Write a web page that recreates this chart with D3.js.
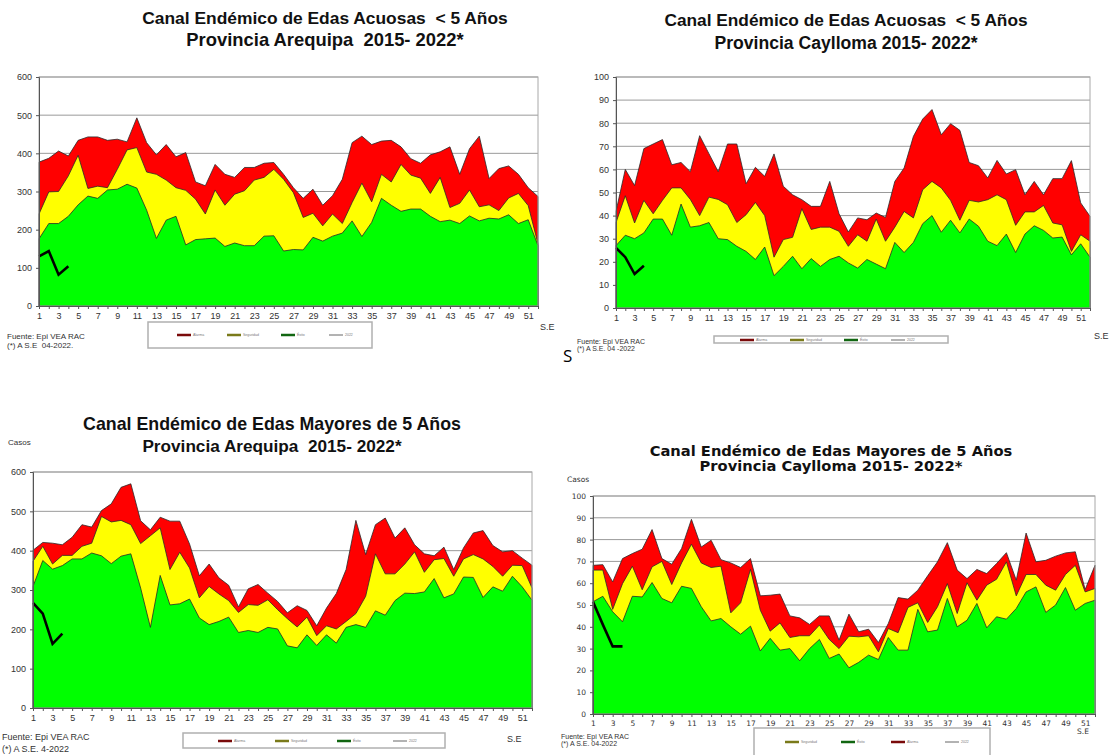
<!DOCTYPE html>
<html>
<head>
<meta charset="utf-8">
<script src="https://cdn.jsdelivr.net/npm/d3@7"></script>
<style>
  body { margin: 0; background: #fff; }
  svg { display: block; }
  text { font-family: "Liberation Sans", Arial, sans-serif; fill: #222; white-space: pre; }
</style>
</head>
<body>
<svg id="chart" width="1112" height="755"></svg>
<script>
// semanas epidemiologicas
const weeks = d3.range(1, 53)
const weekLabels = d3.range(1, 52, 2)

// EDA acuosas < 5 anios - Provincia Arequipa
const aqpMenAlarma = [377,387,406,393,434,443,443,434,437,430,493,428,396,423,391,402,325,315,371,345,337,363,363,374,376,345,310,282,306,264,289,332,428,445,423,432,434,417,386,374,396,404,417,345,412,445,334,360,367,345,310,287]
const aqpMenSeguridad = [241,299,300,341,395,308,314,310,358,409,415,351,345,330,310,303,280,241,304,264,293,302,330,337,358,332,297,232,243,210,241,216,271,322,273,345,325,371,343,335,295,337,258,269,304,260,265,250,283,295,263,163]
const aqpMenExito = [176,216,216,235,265,288,282,304,306,319,309,251,177,225,235,160,174,176,178,156,165,158,158,183,184,144,148,147,180,170,183,191,223,182,219,282,264,248,254,254,235,221,225,216,236,223,230,228,239,216,226,158]
const aqpMen2022 = [130,144,82,104]

// EDA acuosas < 5 anios - Provincia Caylloma
const cayMenAlarma = [41.8,60,53,69,71,72.9,62,63,59,74.6,66.8,59,71,71,53.8,60.9,57,66.7,52.7,49,46.9,44,44,54.8,40.8,32.9,39,38.2,41.1,39.2,54.8,60.6,74.3,81.8,85.9,75,79.8,76.9,63,61.6,56.3,63.9,58,59.9,49,54.8,49,56,56,63.8,45.5,39.7]
const cayMenSeguridad = [37,48.6,36.8,46.6,40.8,46.6,52,52,47,40,48,47,44.7,37,40.4,45.7,40,22,29.6,30.6,43,34,35,35,33.2,26.7,31.7,28.9,38.5,28.9,35,41.8,39,51.2,54.8,52,46.6,38,46.6,45.9,46.9,49,46.9,35.8,41.6,41.6,44.4,36.8,36,24.5,31.7,28.9]
const cayMenExito = [27,31.5,30,32.5,38.5,38.5,31.5,45,35,35.6,37,30,29.6,26.7,24.5,21,26.4,14,18,22.4,17,21.4,18,21,22.4,19.5,17.3,21,19,17,28.4,24,28.4,36.5,40,32.8,38,32.5,38.5,35.4,28.9,27,32,24,32,35.6,33.6,30.3,30.7,23,27.8,22]
const cayMen2022 = [26,22,14.7,18.3]

// EDA mayores de 5 anios - Provincia Arequipa
const aqpMayAlarma = [401,421,419,415,434,466,460,502,519,561,570,476,453,485,475,475,417,336,366,331,312,257,303,314,292,271,242,260,248,209,254,291,352,477,390,466,483,432,458,415,392,387,409,352,407,445,451,413,397,400,381,363]
const aqpMaySeguridad = [373,411,366,388,388,411,419,487,473,477,466,418,438,458,352,396,356,280,309,290,273,243,263,261,275,250,227,206,231,184,209,201,220,240,284,392,341,341,366,397,345,377,380,335,379,390,379,360,335,363,362,305]
const aqpMayExito = [309,375,353,362,379,379,394,387,367,386,392,305,205,337,262,265,277,229,212,220,231,192,197,192,205,201,158,153,186,159,186,165,205,212,205,247,236,273,292,291,295,329,280,290,333,332,281,308,297,335,308,274]
const aqpMay2022 = [267,240,163,189]

// EDA mayores de 5 anios - Provincia Caylloma
const cayMayAlarma = [68.2,68.5,60.6,71.3,73.6,75.6,84.6,71.3,68.7,75.9,89.3,76.6,79.7,70.8,69.3,67.2,71.3,54.2,54.5,55,45,44.1,41.1,45,45,33.9,45.8,37.7,38.9,32.8,41.5,53.4,52.7,56.8,63.4,69.8,78.6,66,62.1,66.3,64.4,69,74,61.4,83,69.8,70.5,72.4,73.9,74.4,57.1,68.2]
const cayMaySeguridad = [66,66,48,59.8,67.8,57,67.5,70,59.4,69.3,77.9,69.3,67.2,67.8,46.4,51,66.3,47.6,38,41.8,35.1,35.9,35.9,40.8,34.2,30,35.7,35.4,35.9,28.5,39.2,37.3,48.9,51,42,49.2,59.8,46.1,60.2,52.2,59.1,61.8,69.8,54.2,64,64,59.1,56.8,64,68.2,56,57.6]
const cayMayExito = [51.5,54,46.9,42.3,54,53.7,60.3,53,51,58.6,57.6,49.2,42.7,43.8,40,36.6,40.3,28.9,34.7,29.3,30,24.4,30,34.2,25.5,27.5,21.2,23.7,27,25,35.1,29.3,29.3,48,37.7,38.5,53,40,43,50.7,39.5,44.6,43.5,48.4,56,58.3,46.6,50,58,47.6,50.7,52.2]
const cayMay2022 = [51.5,41,31,31]

const legendColors = { Alarma: '#7a0a0a', Seguridad: '#7a7a1a', 'Éxito': '#116611', '2022': '#666' }

const panels = [
    {
        title: ['Canal Endémico de Edas Acuosas  < 5 Años', 'Provincia Arequipa  2015- 2022*'],
        titleX: 325, titleY: [18, 40], titleSize: [17.4, 18.4], titleFont: '"Liberation Sans", Arial, sans-serif',
        left: 39, right: 538, top: 77, bottom: 306, yMax: 600, yStep: 100,
        alarma: aqpMenAlarma, seguridad: aqpMenSeguridad, exito: aqpMenExito, actual: aqpMen2022,
        tickFont: 9, tickFamily: '"Liberation Sans", Arial, sans-serif',
        se: [540, 330],
        fuente: ['Fuente: Epi VEA RAC', '(*) A S.E  04-2022.'], fuenteX: 7, fuenteY: [339, 348], fuenteSize: 8,
        legendBox: [148, 322, 372, 348], legendY: 335,
        legendItems: [['Alarma', 177], ['Seguridad', 227], ['Éxito', 281], ['2022', 329]]
    },
    {
        title: ['Canal Endémico de Edas Acuosas  < 5 Años', 'Provincia Caylloma 2015- 2022*'],
        titleX: 846, titleY: [20, 43], titleSize: [17.3, 17.6], titleFont: '"Liberation Sans", Arial, sans-serif',
        left: 616, right: 1090, top: 77, bottom: 308, yMax: 100, yStep: 10,
        alarma: cayMenAlarma, seguridad: cayMenSeguridad, exito: cayMenExito, actual: cayMen2022,
        tickFont: 9, tickFamily: '"Liberation Sans", Arial, sans-serif',
        se: [1094, 339],
        fuente: ['Fuente: Epi VEA RAC', '(*) A S.E. 04 -2022'], fuenteX: 577, fuenteY: [344, 351], fuenteSize: 7,
        legendBox: [714, 336, 948, 343], legendY: 340,
        legendItems: [['Alarma', 740], ['Seguridad', 790], ['Éxito', 844], ['2022', 891]]
    },
    {
        title: ['Canal Endémico de Edas Mayores de 5 Años', 'Provincia Arequipa  2015- 2022*'],
        titleX: 272, titleY: [424, 446], titleSize: [17.8, 17.2], titleFont: '"Liberation Sans", Arial, sans-serif',
        left: 33, right: 532, top: 472, bottom: 708, yMax: 600, yStep: 100,
        alarma: aqpMayAlarma, seguridad: aqpMaySeguridad, exito: aqpMayExito, actual: aqpMay2022,
        tickFont: 9, tickFamily: '"Liberation Sans", Arial, sans-serif',
        casos: [8, 445, 8],
        se: [507, 742],
        fuente: ['Fuente: Epi VEA RAC', '(*) A S.E. 4-2022'], fuenteX: 2, fuenteY: [740, 752], fuenteSize: 9,
        legendBox: [183, 733, 445, 748], legendY: 741,
        legendItems: [['Alarma', 218], ['Seguridad', 275], ['Éxito', 337], ['2022', 393]]
    },
    {
        title: ['Canal Endémico de Edas Mayores de 5 Años', 'Provincia Caylloma 2015- 2022*'],
        titleX: 831, titleY: [451, 466], titleSize: [14.7, 14.7], titleFont: '"DejaVu Sans", Verdana, sans-serif',
        left: 593, right: 1095, top: 496, bottom: 714, yMax: 100, yStep: 10,
        alarma: cayMayAlarma, seguridad: cayMaySeguridad, exito: cayMayExito, actual: cayMay2022,
        tickFont: 7.5, tickFamily: '"DejaVu Sans", Verdana, sans-serif',
        casos: [567, 482, 7.5],
        se: [1077, 734],
        fuente: ['Fuente: Epi VEA RAC', '(*) A S.E. 04-2022'], fuenteX: 561, fuenteY: [739, 746], fuenteSize: 7,
        legendBox: [754, 728, 990, 760], legendY: 742,
        legendItems: [['Seguridad', 785], ['Éxito', 841], ['Alarma', 891], ['2022', 945]]
    }
]

const drawPanel = (svg, p) => {
    const x = d3.scaleLinear().domain([1, 52]).range([p.left, p.right])
    const y = d3.scaleLinear().domain([0, p.yMax]).range([p.bottom, p.top])
    const yTicks = d3.range(0, p.yMax + p.yStep / 2, p.yStep)
    const g = svg.append('g')

    // titulo
    g.selectAll('text.title')
        .data(p.title)
        .join('text')
        .classed('title', true)
        .attr('text-anchor', 'middle')
        .attr('x', p.titleX)
        .attr('y', (d, i) => p.titleY[i] + p.titleSize[i] * 0.35)
        .style('font-family', p.titleFont)
        .style('font-weight', 'bold')
        .style('font-size', (d, i) => p.titleSize[i] + 'px')
        .style('fill', '#111')
        .text(d => d)

    // grilla
    g.selectAll('line.grid')
        .data(yTicks.slice(1))
        .join('line')
        .classed('grid', true)
        .attr('x1', p.left).attr('x2', p.right)
        .attr('y1', d => y(d)).attr('y2', d => y(d))
        .style('stroke', '#9a9a9a')
        .style('stroke-width', 1)

    // canal endemico
    const area = d3.area()
        .x((d, i) => x(i + 1))
        .y0(y(0))
        .y1(d => y(d))
    const zones = [[p.alarma, '#ff0000'], [p.seguridad, '#ffff00'], [p.exito, '#00ff00']]
    g.selectAll('path.zone')
        .data(zones)
        .join('path')
        .classed('zone', true)
        .attr('d', d => area(d[0]))
        .style('fill', d => d[1])
        .style('stroke', '#2a2a2a')
        .style('stroke-width', 0.8)
        .style('stroke-linejoin', 'round')

    // casos 2022
    g.append('path')
        .attr('d', d3.line().x((d, i) => x(i + 1)).y(d => y(d))(p.actual))
        .style('fill', 'none')
        .style('stroke', '#000')
        .style('stroke-width', 2.6)

    // marco
    g.append('rect')
        .attr('x', p.left).attr('y', p.top)
        .attr('width', p.right - p.left).attr('height', p.bottom - p.top)
        .style('fill', 'none')
        .style('stroke', '#a8a8a8')
        .style('stroke-width', 1)

    const yAxis = g.append('g')
        .attr('transform', `translate(${p.left},0)`)
        .call(d3.axisLeft(y).tickValues(yTicks).tickSize(3).tickPadding(4))
    const xAxis = g.append('g')
        .attr('transform', `translate(0,${p.bottom})`)
        .call(d3.axisBottom(x).tickValues(weeks).tickSize(3).tickPadding(4)
            .tickFormat(d => weekLabels.includes(d) ? d : ''))
    ;[yAxis, xAxis].forEach(a => {
        a.select('.domain').style('stroke', '#555')
        a.selectAll('.tick line').style('stroke', '#555')
        a.selectAll('text')
            .style('font-family', p.tickFamily)
            .style('font-size', p.tickFont + 'px')
            .style('fill', '#333')
    })

    if (p.casos) {
        g.append('text')
            .attr('x', p.casos[0]).attr('y', p.casos[1])
            .style('font-size', p.casos[2] + 'px')
            .style('font-family', p.tickFamily)
            .style('fill', '#333')
            .text('Casos')
    }

    g.append('text')
        .attr('x', p.se[0]).attr('y', p.se[1])
        .style('font-size', p.tickFont + 'px')
        .style('font-family', p.tickFamily)
        .style('fill', '#333')
        .text('S.E')

    g.selectAll('text.fuente')
        .data(p.fuente)
        .join('text')
        .classed('fuente', true)
        .attr('x', p.fuenteX)
        .attr('y', (d, i) => p.fuenteY[i])
        .style('font-size', p.fuenteSize + 'px')
        .style('fill', '#333')
        .text(d => d)

    // leyenda
    const [bx0, by0, bx1, by1] = p.legendBox
    g.append('rect')
        .attr('x', bx0).attr('y', by0)
        .attr('width', bx1 - bx0).attr('height', by1 - by0)
        .style('fill', '#fff')
        .style('stroke', '#b0b0b0')
        .style('stroke-width', 1.5)
    const item = g.selectAll('g.leg')
        .data(p.legendItems)
        .join('g')
        .classed('leg', true)
        .attr('transform', d => `translate(${d[1]},${p.legendY})`)
    item.append('line')
        .attr('x1', 0).attr('x2', 14)
        .style('stroke', d => legendColors[d[0]])
        .style('stroke-width', d => d[0] === '2022' ? 1 : 2.5)
    item.append('text')
        .attr('x', 16).attr('y', 1.2)
        .style('font-size', '3.5px')
        .style('fill', '#777')
        .text(d => d[0])
}

const svg = d3.select('#chart')
panels.forEach(p => drawPanel(svg, p))

svg.append('text')
    .attr('x', 563).attr('y', 362)
    .style('font-family', '"Open Sans", "Noto Sans", sans-serif')
    .style('font-size', '17px')
    .style('fill', '#000')
    .text('S')
</script>
</body>
</html>
